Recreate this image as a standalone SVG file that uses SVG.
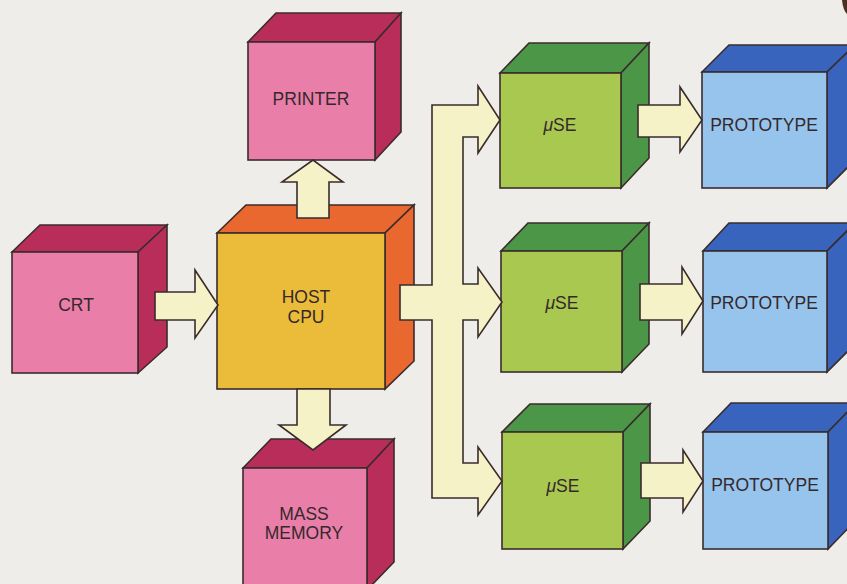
<svg xmlns="http://www.w3.org/2000/svg" width="847" height="584" viewBox="0 0 847 584">
<style>
.ln{stroke:#3a2c2c;stroke-width:1.6;stroke-linejoin:miter}
.pf{fill:#e97fa8}.pd{fill:#b92d5a}
.cf{fill:#eabc3a}.cd{fill:#e86830}
.gf{fill:#a8c850}.gd{fill:#4c9648}
.bf{fill:#96c4ec}.bd{fill:#3864be}
.ar{fill:#f6f2c8}
text{font-family:"Liberation Sans",Arial,sans-serif;font-size:17.5px;fill:#35282c;text-anchor:middle}
</style>
<rect width="847" height="584" fill="#efede9"/>
<path d="M842 0 L847 0 L847 14 Q843 10 842 0 Z" fill="#4a3020"/>

<g id="crt">
<polygon class="ln pd" points="12,252 40,225 167,225 138,252"/>
<polygon class="ln pd" points="138,252 167,225 167,347 138,373"/>
<rect class="ln pf" x="12" y="252" width="126" height="121"/>
<text x="76" y="311">CRT</text>
</g>

<g id="host-cpu">
<polygon class="ln cd" points="217,233 246,205 414,205 385,233"/>
<polygon class="ln cd" points="385,233 414,205 414,361 385,389"/>
<rect class="ln cf" x="217" y="233" width="168" height="156"/>
<text x="306" y="303">HOST</text>
<text x="306" y="323">CPU</text>
</g>

<g id="printer">
<polygon class="ln pd" points="248,42 276,13 401,13 375,42"/>
<polygon class="ln pd" points="375,42 401,13 401,132 375,160"/>
<rect class="ln pf" x="248" y="42" width="127" height="118"/>
<text x="311" y="105">PRINTER</text>
</g>

<g id="mass-memory">
<polygon class="ln pd" points="243,468 271,439 394,439 367,468"/>
<polygon class="ln pd" points="367,468 394,439 394,562 367,590"/>
<rect class="ln pf" x="243" y="468" width="124" height="130"/>
<text x="304" y="520">MASS</text>
<text x="304" y="539">MEMORY</text>
</g>

<g id="use-1">
<polygon class="ln gd" points="500,73 529,43 649,43 621,73"/>
<polygon class="ln gd" points="621,73 649,43 649,158 621,188"/>
<rect class="ln gf" x="500" y="73" width="121" height="115"/>
<text x="560" y="131"><tspan font-style="italic">μ</tspan>SE</text>
</g>

<g id="use-2">
<polygon class="ln gd" points="501,251 528,223 649,223 622,251"/>
<polygon class="ln gd" points="622,251 649,223 649,344 622,372"/>
<rect class="ln gf" x="501" y="251" width="121" height="121"/>
<text x="562" y="309"><tspan font-style="italic">μ</tspan>SE</text>
</g>

<g id="use-3">
<polygon class="ln gd" points="502,432 530,404 650,404 623,432"/>
<polygon class="ln gd" points="623,432 650,404 650,521 623,549"/>
<rect class="ln gf" x="502" y="432" width="121" height="117"/>
<text x="563" y="492"><tspan font-style="italic">μ</tspan>SE</text>
</g>

<g id="prototype-1">
<polygon class="ln bd" points="702,72 729,45 855,45 827,72"/>
<polygon class="ln bd" points="827,72 855,45 855,160 827,188"/>
<rect class="ln bf" x="702" y="72" width="125" height="116"/>
<text x="764" y="131">PROTOTYPE</text>
</g>

<g id="prototype-2">
<polygon class="ln bd" points="703,251 729,223 855,223 827,251"/>
<polygon class="ln bd" points="827,251 855,223 855,344 827,372"/>
<rect class="ln bf" x="703" y="251" width="124" height="121"/>
<text x="764" y="309">PROTOTYPE</text>
</g>

<g id="prototype-3">
<polygon class="ln bd" points="703,432 731,403 856,403 828,432"/>
<polygon class="ln bd" points="828,432 856,403 856,520 828,549"/>
<rect class="ln bf" x="703" y="432" width="125" height="117"/>
<text x="765" y="491">PROTOTYPE</text>
</g>

<g id="connectors">
<polygon class="ln ar" points="155,292 195,292 195,270 218,305 195,338 195,320 155,320"/>
<polygon class="ln ar" points="297,218 297,182 282,182 313,160 343,182 329,182 329,218"/>
<polygon class="ln ar" points="297,389 330,389 330,425 346,425 313,450 279,425 297,425"/>
<polygon class="ln ar" points="432,105 478,105 478,86 500,120 478,153 478,137 463,137 463,284 478,284 478,268 502,302 478,337 478,320 463,320 463,463 478,463 478,447 502,481 478,515 478,498 432,498 432,320 400,320 400,285 432,285"/>
<polygon class="ln ar" points="638,105 680,105 680,87 702,120 680,152 680,137 638,137"/>
<polygon class="ln ar" points="640,284 682,284 682,267 703,301 682,334 682,320 640,320"/>
<polygon class="ln ar" points="641,463 683,463 683,450 703,481 683,512 683,498 641,498"/>
</g>
</svg>
